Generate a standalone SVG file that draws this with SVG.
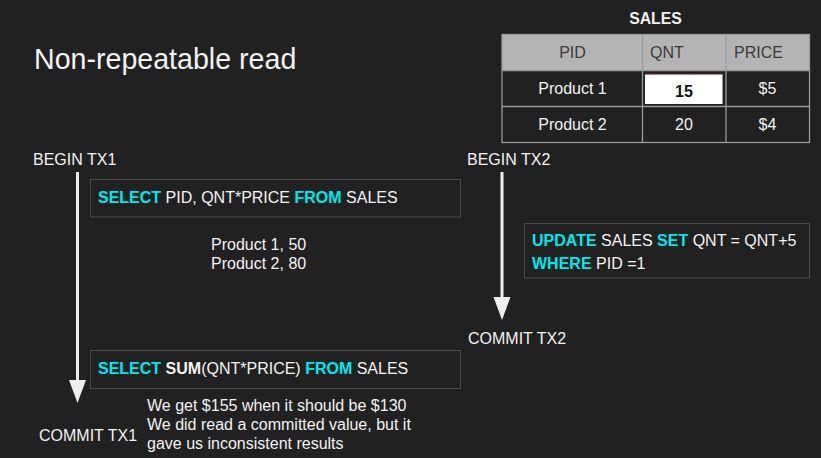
<svg xmlns="http://www.w3.org/2000/svg" width="821" height="458" viewBox="0 0 821 458">
<style>
text{font-family:"Liberation Sans",Arial,sans-serif;font-size:16px;fill:#f2f2f2}
.kw{fill:#00e8ec;font-weight:bold}
.b{font-weight:bold}
.box{fill:none;stroke:#4a4a4a;stroke-width:1}
.grid{stroke:#9a9a9a;stroke-width:1.3;fill:none}
.hd{fill:#3a3a3a}
.conn{stroke:#eeeeee;stroke-width:3;fill:none;marker-end:url(#ah)}
</style>
<defs>
<marker id="ah" markerUnits="userSpaceOnUse" markerWidth="24" markerHeight="18" viewBox="0 -9 24 18" refX="0" refY="0" orient="auto">
<path d="M0,-8.5 L23,0 L0,8.5 z" fill="#eeeeee"/>
</marker>
</defs>
<rect width="821" height="458" fill="#212121"/>

<g id="title"><text x="34" y="69" style="font-size:28.6px">Non-repeatable read</text></g>

<g id="sales-table">
<text x="655.5" y="24" text-anchor="middle" class="b" style="font-size:15.8px">SALES</text>
<rect x="502" y="34.5" width="307.5" height="36" fill="#b4b4b4"/>
<rect x="645" y="74" width="77.5" height="30" fill="#ffffff"/>
<line x1="645" y1="74.3" x2="722.5" y2="74.3" stroke="#9a2a5a" stroke-width="0.8"/>
<rect x="502" y="34.5" width="307.5" height="108" class="grid"/>
<line x1="502" y1="70.5" x2="809.5" y2="70.5" class="grid"/>
<line x1="502" y1="106.5" x2="809.5" y2="106.5" class="grid"/>
<line x1="642.5" y1="34.5" x2="642.5" y2="142.5" class="grid"/>
<line x1="726" y1="34.5" x2="726" y2="142.5" class="grid"/>
<text x="572.5" y="57.5" text-anchor="middle" class="hd">PID</text>
<text x="650" y="57.5" class="hd">QNT</text>
<text x="734" y="57.5" class="hd">PRICE</text>
<text x="572.5" y="94" text-anchor="middle">Product 1</text>
<text x="684" y="97" text-anchor="middle" class="b" style="fill:#111111">15</text>
<text x="767.5" y="94" text-anchor="middle">$5</text>
<text x="572.5" y="129.5" text-anchor="middle">Product 2</text>
<text x="684" y="129.5" text-anchor="middle">20</text>
<text x="767.5" y="129.5" text-anchor="middle">$4</text>
</g>

<g id="begin-tx1"><text x="33" y="165">BEGIN TX1</text></g>
<g id="begin-tx2"><text x="467" y="165">BEGIN TX2</text></g>
<g id="commit-tx2"><text x="468" y="343.5">COMMIT TX2</text></g>
<g id="commit-tx1"><text x="39" y="441">COMMIT TX1</text></g>

<g id="select1">
<rect x="90.5" y="179.5" width="370" height="37.5" class="box"/>
<text x="98" y="203"><tspan class="kw">SELECT</tspan> PID, QNT*PRICE <tspan class="kw">FROM</tspan> SALES</text>
</g>

<g id="result1">
<text x="211" y="250">Product 1, 50</text>
<text x="211" y="268.5">Product 2, 80</text>
</g>

<g id="update">
<rect x="524.5" y="223.5" width="285" height="54.5" class="box"/>
<text x="532" y="245.5"><tspan class="kw">UPDATE</tspan> SALES <tspan class="kw">SET</tspan> QNT = QNT+5</text>
<text x="532" y="268.5"><tspan class="kw">WHERE</tspan> PID =1</text>
</g>

<g id="select2">
<rect x="90.5" y="350.5" width="370" height="38" class="box"/>
<text x="98" y="374"><tspan class="kw">SELECT</tspan> <tspan class="b">SUM</tspan>(QNT*PRICE) <tspan class="kw">FROM</tspan> SALES</text>
</g>

<g id="note">
<text x="147" y="411">We get $155 when it should be $130</text>
<text x="147" y="430">We did read a committed value, but it</text>
<text x="147" y="448.5">gave us inconsistent results</text>
</g>

<g id="connectors">
<line x1="77.5" y1="172" x2="77.5" y2="380" class="conn"/>
<line x1="502" y1="172" x2="502" y2="297" class="conn"/>
</g>
</svg>
